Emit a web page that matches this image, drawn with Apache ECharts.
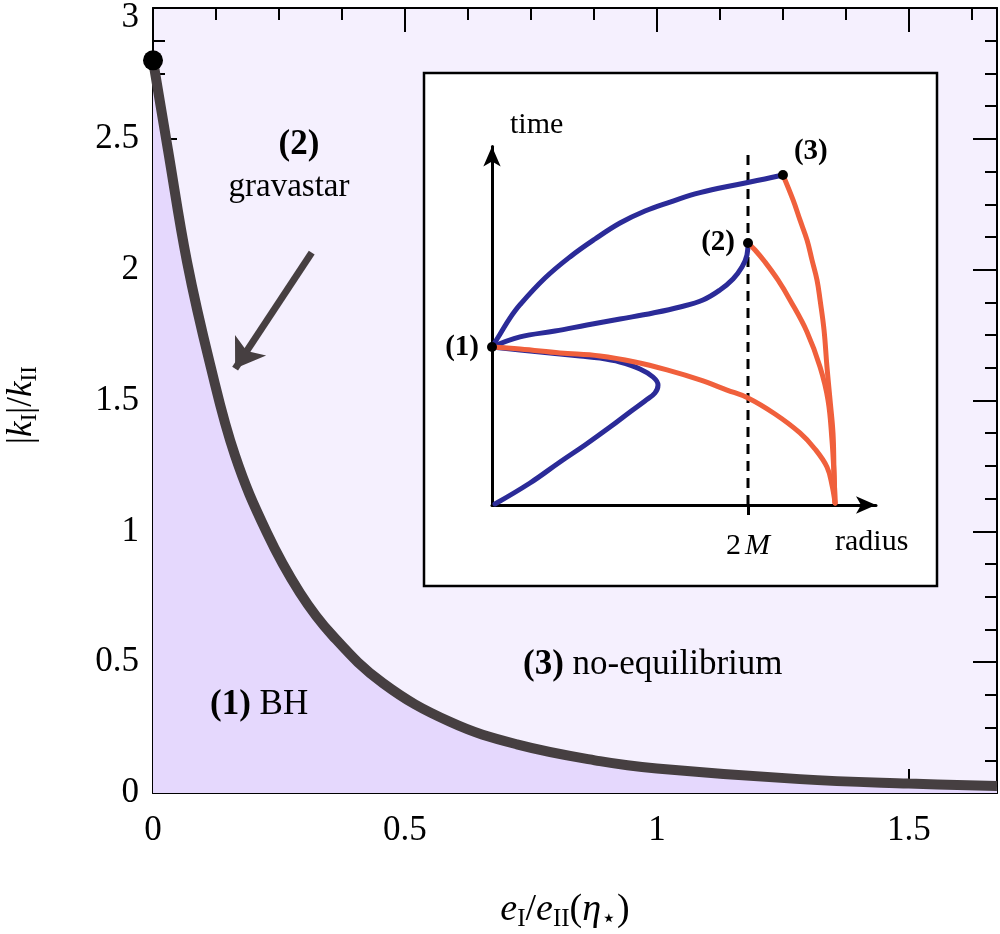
<!DOCTYPE html>
<html><head><meta charset="utf-8">
<script src="https://cdn.jsdelivr.net/npm/echarts@6/dist/echarts.min.js"></script>
<style>html,body{margin:0;padding:0;background:#fff}#c{width:1000px;height:934px}</style>
</head><body><div id="c"></div>
<script>
// ---- main panel data: |kI|/kII versus eI/eII(eta*) ----
const curveX = [0, 0.0298, 0.0675, 0.1131, 0.1627, 0.2262, 0.2917, 0.3571, 0.4563, 0.5893, 0.7222, 0.8869, 1.0, 1.2837, 1.5, 1.675];
const curveY = [2.80, 2.457, 2.03, 1.64, 1.29, 0.994, 0.765, 0.60, 0.420, 0.272, 0.186, 0.122, 0.094, 0.053, 0.036, 0.027];
const startPoint = [0, 2.80];
const arrowFrom = [0.315, 2.065];
const arrowTo = [0.163, 1.622];
const xMajorTicks = [0, 0.5, 1, 1.5];
const yMajorTicks = [0, 0.5, 1, 1.5, 2, 2.5, 3];

// ---- inset data (radius, time) in units of M ----
const blueTopX = [0, 0.06, 0.14, 0.219, 0.414, 0.609, 0.805, 1.0, 1.195, 1.391, 1.586, 1.781, 2.016, 2.273];
const blueTopY = [1.234, 1.33, 1.46, 1.565, 1.773, 1.938, 2.078, 2.203, 2.297, 2.367, 2.430, 2.477, 2.523, 2.578];
const blueMidX = [0, 0.219, 0.492, 0.742, 1.0, 1.258, 1.469, 1.648, 1.781, 1.883, 1.953, 1.992, 2.0];
const blueMidY = [1.234, 1.313, 1.359, 1.406, 1.453, 1.5, 1.547, 1.602, 1.680, 1.766, 1.859, 1.953, 2.047];
const blueLoopX = [0, 0.219, 0.453, 0.688, 0.844, 1.0, 1.156, 1.258, 1.297, 1.273, 1.195, 1.078, 0.922, 0.727, 0.531, 0.297, 0.023];
const blueLoopY = [1.234, 1.211, 1.188, 1.164, 1.148, 1.117, 1.063, 1.0, 0.938, 0.875, 0.813, 0.727, 0.609, 0.469, 0.336, 0.172, 0.008];
const orangeAX = [0, 0.219, 0.531, 0.844, 1.117, 1.367, 1.625, 1.836, 2.0, 2.211, 2.406, 2.523, 2.617, 2.656, 2.68];
const orangeAY = [1.234, 1.219, 1.188, 1.164, 1.117, 1.055, 0.977, 0.898, 0.836, 0.711, 0.563, 0.438, 0.297, 0.156, 0.016];
const orangeBX = [2.0, 2.055, 2.133, 2.234, 2.328, 2.461, 2.563, 2.625, 2.656, 2.672, 2.68];
const orangeBY = [2.047, 1.992, 1.898, 1.758, 1.602, 1.352, 1.078, 0.820, 0.508, 0.234, 0.016];
const orangeCX = [2.273, 2.352, 2.406, 2.461, 2.5, 2.539, 2.563, 2.594, 2.617, 2.641, 2.664, 2.672, 2.68];
const orangeCY = [2.578, 2.383, 2.227, 2.070, 1.914, 1.758, 1.602, 1.367, 1.078, 0.820, 0.563, 0.273, 0.016];
const statePoints = [[0, 1.234, '(1)'], [2.0, 2.047, '(2)'], [2.273, 2.578, '(3)']];
const horizon = 2; // 2M
const dashTop = 2.79;

const zip = (a, b) => a.map((v, i) => [v, b[i]]);
const SERIF = '"Liberation Serif", "DejaVu Serif", serif';
const BLUE = '#2b2b98', ORANGE = '#f0603c', CURVE = '#463f41';
const FS = 35;

const chart = echarts.init(document.getElementById('c'), null, {renderer: 'canvas'});

const mainRect = {left: 153, top: 8, width: 844, height: 785};
const insetRect = {left: 492, top: 146.6, width: 384, height: 358.4};

const axisLineStyle = {color: '#000', width: 2};
function xAxisBase(grid, pos, interval, tickLen, showLine, showLabel) {
  return {
    type: 'value', gridIndex: grid, position: pos, min: 0, max: 1.675, interval: interval,
    axisLine: {show: showLine, onZero: false, lineStyle: axisLineStyle},
    axisTick: {show: true, inside: true, length: tickLen, lineStyle: {color: '#000', width: 2}},
    axisLabel: {show: showLabel, showMaxLabel: false, margin: 20, color: '#000', fontFamily: SERIF, fontSize: FS,
      formatter: v => (xMajorTicks.indexOf(v) >= 0 ? String(v) : '')},
    splitLine: {show: false}
  };
}
function yAxisBase(grid, pos, showLabel) {
  return {
    type: 'value', gridIndex: grid, position: pos, min: 0, max: 3, interval: 0.5,
    axisLine: {show: true, onZero: false, lineStyle: axisLineStyle},
    axisTick: {show: true, inside: true, length: 24, lineStyle: {color: '#000', width: 2}},
    minorTick: {show: true, splitNumber: 4, length: 12, lineStyle: {color: '#000', width: 2}},
    axisLabel: {show: showLabel, margin: 14, color: '#000', fontFamily: SERIF, fontSize: FS,
      formatter: v => (yMajorTicks.indexOf(v) < 0 ? '' : (v === 3 ? '{t|3}' : String(v))),
      rich: {t: {fontFamily: SERIF, fontSize: FS, color: '#000', padding: [20, 0, 0, 0]}}},
    splitLine: {show: false}
  };
}

const option = {
  backgroundColor: '#fff',
  animation: false,
  grid: [
    Object.assign({show: true, backgroundColor: '#f5f0fe', borderWidth: 0, containLabel: false, outerBoundsMode: 'none'}, mainRect),
    Object.assign({show: false, containLabel: false, outerBoundsMode: 'none'}, mainRect),
    Object.assign({show: false, containLabel: false, outerBoundsMode: 'none'}, insetRect)
  ],
  xAxis: [
    xAxisBase(0, 'bottom', 0.5, 24, true, true),
    xAxisBase(0, 'top', 0.5, 24, true, false),
    xAxisBase(1, 'bottom', 0.125, 12, false, false),
    xAxisBase(1, 'top', 0.125, 12, false, false),
    {
      type: 'value', gridIndex: 2, position: 'bottom', min: 0, max: 3, z: 12,
      axisLine: {show: true, onZero: false, symbol: ['none', 'arrow'], symbolSize: [13, 20], lineStyle: {color: '#000', width: 3}},
      axisTick: {show: true, inside: false, length: 10, customValues: [horizon], lineStyle: {color: '#000', width: 3}},
      axisLabel: {show: true, customValues: [horizon], margin: 26, color: '#000', fontFamily: SERIF, fontSize: 30,
        formatter: () => '{n|2}{i|M}',
        rich: {n: {fontFamily: SERIF, fontSize: 30, color: '#000'}, i: {fontFamily: SERIF, fontStyle: 'italic', fontSize: 30, color: '#000', padding: [0, 0, 0, 4]}}},
      splitLine: {show: false}
    }
  ],
  yAxis: [
    yAxisBase(0, 'left', true),
    yAxisBase(0, 'right', false),
    {type: 'value', gridIndex: 1, min: 0, max: 3, show: false},
    {
      type: 'value', gridIndex: 2, position: 'left', min: 0, max: 2.8, z: 12,
      axisLine: {show: true, onZero: false, symbol: ['none', 'arrow'], symbolSize: [13, 20], lineStyle: {color: '#000', width: 3}},
      axisTick: {show: false}, axisLabel: {show: false}, splitLine: {show: false}
    }
  ],
  series: [
    {
      type: 'line', xAxisIndex: 0, yAxisIndex: 0, data: zip(curveX, curveY),
      smooth: 0.4, symbol: 'none', z: 3,
      lineStyle: {color: CURVE, width: 10},
      areaStyle: {color: '#e5d8fd', opacity: 1, origin: 'start'}
    },
    {
      type: 'scatter', xAxisIndex: 0, yAxisIndex: 0, data: [startPoint], symbolSize: 20,
      itemStyle: {color: '#000', opacity: 1}, clip: false, z: 6, silent: true
    },
    {
      type: 'lines', coordinateSystem: 'cartesian2d', xAxisIndex: 0, yAxisIndex: 0, z: 5,
      data: [{coords: [arrowFrom, arrowTo]}],
      symbol: ['none', 'arrow'], symbolSize: 28,
      lineStyle: {color: CURVE, width: 7, opacity: 1}
    },
    // inset curves
    ...[[blueTopX, blueTopY, BLUE], [blueMidX, blueMidY, BLUE], [blueLoopX, blueLoopY, BLUE],
        [orangeAX, orangeAY, ORANGE], [orangeBX, orangeBY, ORANGE], [orangeCX, orangeCY, ORANGE]].map(s => ({
      type: 'line', xAxisIndex: 4, yAxisIndex: 3, data: zip(s[0], s[1]), smooth: 0.4,
      symbol: 'none', z: 14, clip: false, lineStyle: {color: s[2], width: 5, cap: 'round', join: 'round'}
    })),
    {
      type: 'line', xAxisIndex: 4, yAxisIndex: 3, data: [[horizon, 0], [horizon, dashTop]], symbol: 'none', z: 13,
      lineStyle: {color: '#000', width: 3, type: [10, 7]}
    },
    {
      type: 'scatter', xAxisIndex: 4, yAxisIndex: 3, z: 16, clip: false, symbolSize: 10,
      itemStyle: {color: '#000', opacity: 1},
      data: statePoints.map((p, i) => ({
        value: [p[0], p[1]],
        label: {
          show: true, formatter: p[2], fontFamily: SERIF, fontWeight: 'bold', fontSize: 29, color: '#000', opacity: 1,
          position: i === 2 ? 'right' : 'left', distance: 8,
          offset: i === 2 ? [-2, -24] : [0, 0]
        }
      }))
    }
  ],
  graphic: {
    elements: [
      {type: 'rect', z: 10, shape: {x: 424, y: 73, width: 513, height: 513},
        style: {fill: '#fff', stroke: '#000', lineWidth: 2.5}},
      {type: 'text', z: 20, style: {x: 510, y: 125, text: 'time', font: '30px ' + SERIF, fill: '#000', verticalAlign: 'middle'}},
      {type: 'text', z: 20, style: {x: 835, y: 542, text: 'radius', font: '30px ' + SERIF, fill: '#000', verticalAlign: 'middle'}},
      {type: 'text', z: 20, style: {x: 299, y: 145, text: '(2)', font: 'bold ' + FS + 'px ' + SERIF, fill: '#000', align: 'center', verticalAlign: 'middle'}},
      {type: 'text', z: 20, style: {x: 289, y: 187, text: 'gravastar', font: '33px ' + SERIF, fill: '#000', align: 'center', verticalAlign: 'middle'}},
      {type: 'text', z: 20, style: {x: 210, y: 705, text: '{b|(1)} BH', font: FS + 'px ' + SERIF, fill: '#000', verticalAlign: 'middle',
        rich: {b: {fontWeight: 'bold', fontSize: FS, fontFamily: SERIF}}}},
      {type: 'text', z: 20, style: {x: 523, y: 665, text: '{b|(3)} no-equilibrium', font: FS + 'px ' + SERIF, fill: '#000', verticalAlign: 'middle',
        rich: {b: {fontWeight: 'bold', fontSize: FS, fontFamily: SERIF}}}},
      {type: 'text', z: 20, style: {x: 565, y: 910, align: 'center', verticalAlign: 'middle',
        text: '{i|e}{s|I}{n|/}{i|e}{s|II}{n|(}{i|η}{s|⋆}{n|)}',
        rich: {
          i: {fontFamily: SERIF, fontStyle: 'italic', fontSize: 38, fill: '#000'},
          n: {fontFamily: SERIF, fontSize: 38, fill: '#000'},
          s: {fontFamily: SERIF, fontSize: 25, fill: '#000', padding: [18, 0, 0, 0]}
        }}},
      {type: 'text', z: 20, x: 22, y: 405, rotation: Math.PI / 2, style: {x: 0, y: 0, align: 'center', verticalAlign: 'middle',
        text: '{n||}{i|k}{s|I}{n||/}{i|k}{s|II}',
        rich: {
          i: {fontFamily: SERIF, fontStyle: 'italic', fontSize: FS, fill: '#000'},
          n: {fontFamily: SERIF, fontSize: FS, fill: '#000'},
          s: {fontFamily: SERIF, fontSize: 23, fill: '#000', padding: [16, 0, 0, 0]}
        }}}
    ]
  }
};
chart.setOption(option);
</script>
</body></html>
